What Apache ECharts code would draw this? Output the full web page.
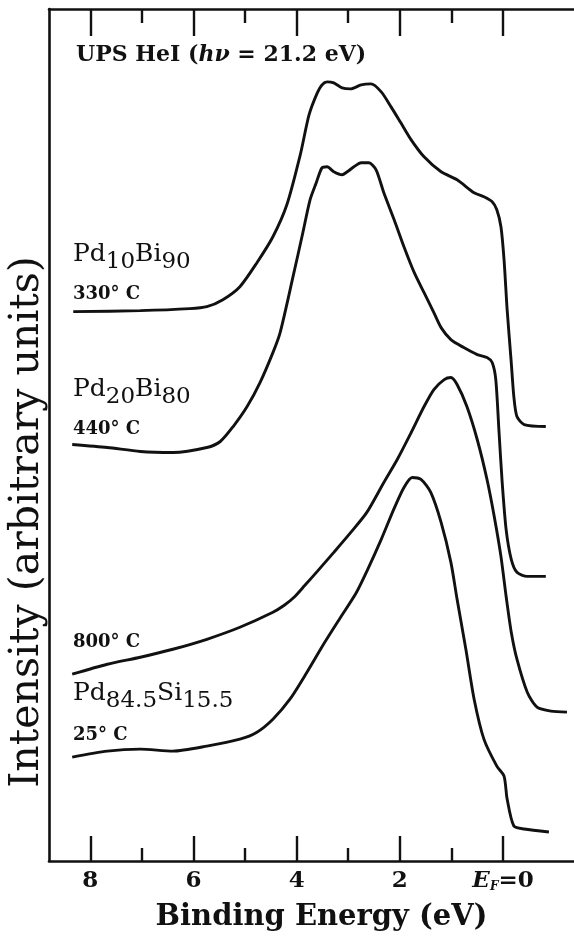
<!DOCTYPE html>
<html><head><meta charset="utf-8">
<script src="https://cdn.jsdelivr.net/npm/echarts@6/dist/echarts.min.js"></script>
<style>html,body{margin:0;padding:0;background:#fff}#c{width:574px;height:940px}</style>
</head><body><div id="c"></div>
<script>
// Binding energy (eV) and intensity (arbitrary units, offset per curve)
const energyPd10Bi90 = [8.33,7.03,6.07,5.74,5.43,5.10,4.77,4.46,4.19,3.93,3.76,3.60,3.51,3.41,3.28,3.12,2.95,2.75,2.56,2.36,2.17,1.98,1.78,1.53,1.20,0.89,0.56,0.37,0.21,0.12,0.04,-0.02,-0.08,-0.16,-0.21,-0.27,-0.41,-0.83];
const intensityPd10Bi90 = [550,551,553,555,562,575,599,625,657,707,747,769,777,780,779,774,773,777,778,770,755,739,722,705,690,682,669,665,660,652,635,602,552,499,465,445,437,435];

const energyPd20Bi80 = [8.35,7.67,7.03,6.40,5.74,5.48,5.23,4.96,4.71,4.46,4.32,4.07,3.88,3.74,3.62,3.51,3.41,3.28,3.12,3.02,2.89,2.75,2.60,2.46,2.31,2.11,1.92,1.72,1.53,1.34,1.20,1.01,0.76,0.50,0.31,0.21,0.14,0.08,0.02,-0.06,-0.16,-0.27,-0.47,-0.83];
const intensityPd20Bi80 = [417,414,410,409,414,420,435,455,479,509,529,585,629,662,679,694,695,690,687,690,695,699,699,692,669,642,615,589,569,549,534,522,514,507,504,499,482,432,382,332,302,289,285,285];

const energyPdSi800 = [8.35,7.67,7.03,6.40,5.74,5.10,4.46,4.24,4.05,3.84,3.60,3.28,2.95,2.64,2.31,2.05,1.78,1.53,1.34,1.14,1.01,0.89,0.70,0.50,0.31,0.17,0.04,-0.06,-0.16,-0.27,-0.47,-0.66,-0.93,-1.24];
const intensityPdSi800 = [187,197,204,212,222,234,249,256,264,276,290,309,329,349,379,402,429,455,472,482,484,477,455,422,382,345,305,265,229,202,169,154,150,149];

const energyPdSi25 = [8.35,7.67,7.03,6.40,5.74,5.10,4.77,4.46,4.13,3.80,3.49,3.16,2.85,2.64,2.36,2.11,1.92,1.76,1.59,1.40,1.20,1.01,0.89,0.72,0.56,0.37,0.12,-0.02,-0.08,-0.21,-0.41,-0.89];
const intensityPdSi25 = [104,110,112,110,115,122,129,142,162,189,216,243,268,290,322,353,374,384,382,369,339,299,262,212,162,122,95,85,62,35,32,29];

const majorTicks = [0,2,4,6,8];
const minorTicks = [1,3,5,7];
const tickLabels = {0:'{i|E}{f|F}{b|=0}',2:'{b|2}',4:'{b|4}',6:'{b|6}',8:'{b|8}'};

const xTitle = 'Binding Energy (eV)';
const yTitle = 'Intensity (arbitrary units)';

const X_MIN = -1.376, X_MAX = 8.80;
const FONT = 'DejaVu Serif';
const INK = '#111';

function pairs(xs, ys){ return xs.map((x,i)=>[x, ys[i]]); }

function xAx(pos, ticks, len, showLine, showLabel){
  return {
    type:'value', position:pos, inverse:true, min:X_MIN, max:X_MAX,
    axisLine:{show:showLine, onZero:false, lineStyle:{color:INK, width:2.6}},
    axisTick:{show:true, inside:true, length:len, customValues:ticks, lineStyle:{color:INK, width:2.4}},
    axisLabel:{show:showLabel, customValues:ticks, margin:9,
      formatter:(v)=>tickLabels[v],
      rich:{
        b:{fontFamily:FONT, fontWeight:'bold', fontSize:23, color:INK},
        i:{fontFamily:FONT, fontWeight:'bold', fontStyle:'italic', fontSize:23, color:INK},
        f:{fontFamily:FONT, fontWeight:'bold', fontStyle:'italic', fontSize:12, color:INK, padding:[10,0,0,0]}
      }},
    splitLine:{show:false}
  };
}

const chart = echarts.init(document.getElementById('c'), null, {renderer:'canvas'});
const curve = (name, xs, ys) => ({
  name, type:'line', xAxisIndex:0, yAxisIndex:0, showSymbol:false, symbol:'none',
  smooth:0.25, data:pairs(xs, ys), lineStyle:{color:INK, width:2.9}, silent:true
});

function lbl(x, y, text, rich){
  return {type:'text', x, y, style:{text, rich, fill:INK, align:'left', verticalAlign:'top'}};
}
const alloyRich = {
  m:{fontFamily:FONT, fontSize:25, color:INK, verticalAlign:'top', lineHeight:28},
  s:{fontFamily:FONT, fontSize:23, color:INK, verticalAlign:'top', lineHeight:28, padding:[9,0,0,0]}
};
const tempRich = { t:{fontFamily:FONT, fontWeight:'bold', fontSize:18, color:INK} };

chart.setOption({
  animation:false,
  backgroundColor:'#fff',
  grid:{left:49, right:0, top:9, bottom:79, containLabel:false},
  xAxis:[
    Object.assign(xAx('bottom', majorTicks, 25, true, true), {
      name:xTitle, nameLocation:'middle', nameGap:42,
      nameTextStyle:{fontFamily:FONT, fontWeight:'bold', fontSize:29, color:INK, padding:[0,0,0,20]}
    }),
    xAx('bottom', minorTicks, 13, false, false),
    xAx('top', majorTicks, 27, true, false),
    xAx('top', minorTicks, 14, false, false)
  ],
  yAxis:{type:'value', min:0, max:853, axisLine:{show:true, onZero:false, lineStyle:{color:INK, width:2.6}},
    axisTick:{show:false}, axisLabel:{show:false}, splitLine:{show:false}},
  series:[
    curve('Pd10Bi90 330°C', energyPd10Bi90, intensityPd10Bi90),
    curve('Pd20Bi80 440°C', energyPd20Bi80, intensityPd20Bi80),
    curve('Pd84.5Si15.5 800°C', energyPdSi800, intensityPdSi800),
    curve('Pd84.5Si15.5 25°C', energyPdSi25, intensityPdSi25)
  ],
  graphic:[
    {type:'text', x:27, y:522, rotation:Math.PI/2,
      style:{text:yTitle, fontFamily:FONT, fontSize:41, fill:INK, align:'center', verticalAlign:'middle'}},
    lbl(76, 44, '{b|UPS HeI (}{i|hν}{b| = 21.2 eV)}', {
      b:{fontFamily:FONT, fontWeight:'bold', fontSize:22, color:INK},
      i:{fontFamily:FONT, fontWeight:'bold', fontStyle:'italic', fontSize:22, color:INK}}),
    lbl(73, 242, '{m|Pd}{s|10}{m|Bi}{s|90}', alloyRich),
    lbl(73, 285, '{t|330° C}', tempRich),
    lbl(73, 377, '{m|Pd}{s|20}{m|Bi}{s|80}', alloyRich),
    lbl(73, 420, '{t|440° C}', tempRich),
    lbl(73, 633, '{t|800° C}', tempRich),
    lbl(73, 681, '{m|Pd}{s|84.5}{m|Si}{s|15.5}', alloyRich),
    lbl(73, 726, '{t|25° C}', tempRich)
  ]
});
</script></body></html>
